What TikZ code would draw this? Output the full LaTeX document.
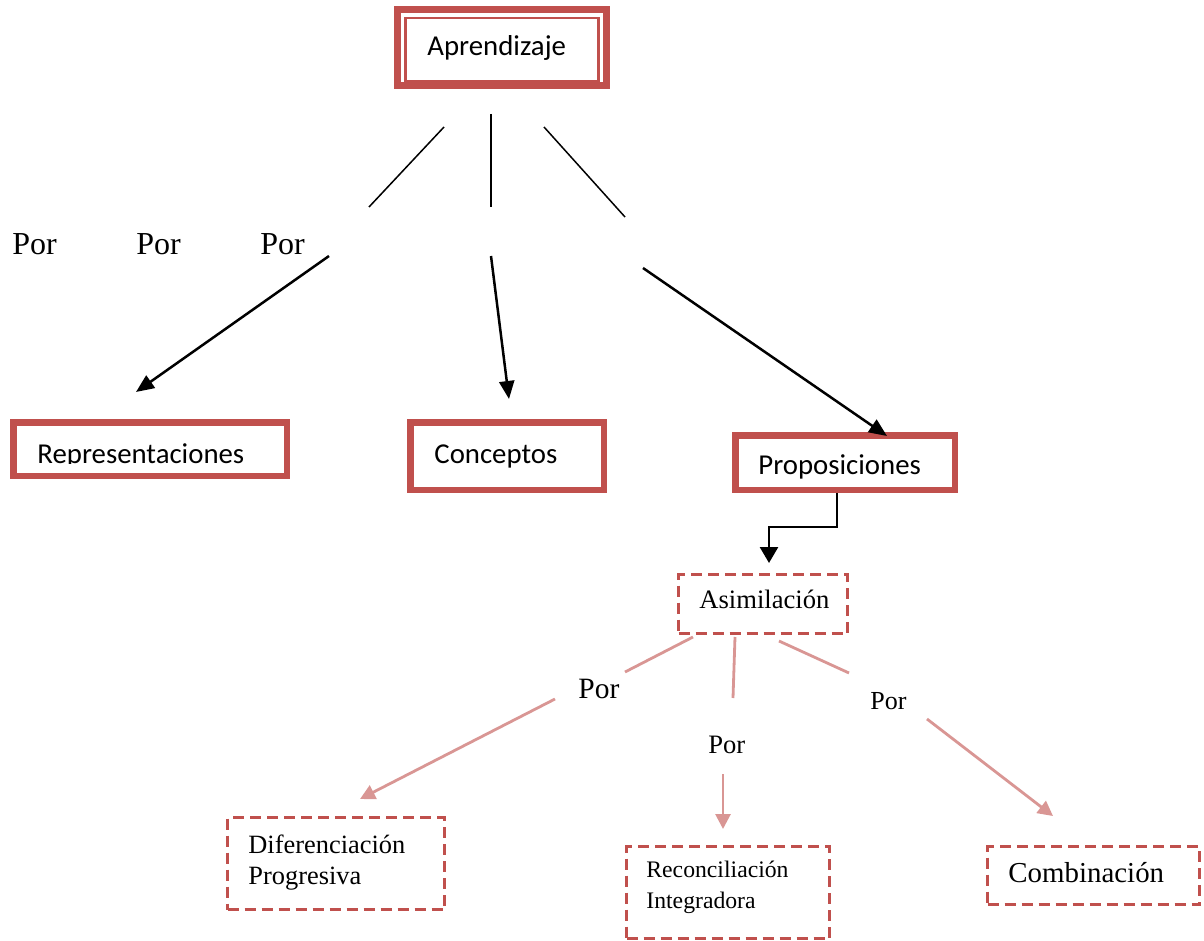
\documentclass[tikz,border=0pt]{standalone}
\usepackage{fontspec}
\setmainfont{Liberation Serif}
\newfontfamily\calibri{Carlito}
\usetikzlibrary{arrows.meta}
\definecolor{boxred}{HTML}{C0504D}
\definecolor{linkpink}{HTML}{D99694}
\begin{document}
\begin{tikzpicture}[x=0.5pt,y=-0.5pt,
  solidbox/.style={draw=boxred, line width=3.25pt, rectangle, inner sep=0pt},
  dashbox/.style={draw=boxred, line width=1.5pt, dash pattern=on 5.5pt off 3pt, rectangle, inner sep=0pt},
  sanslabel/.style={font=\calibri\fontsize{14.4}{17}\selectfont, inner sep=0pt, anchor=base west},
  seriflabel/.style={inner sep=0pt, anchor=base west},
  thinlink/.style={draw=black, line width=0.75pt},
  blackarrow/.style={draw=black, line width=1.25pt, -{Triangle[length=9pt,width=7.5pt]}},
  pinklink/.style={draw=linkpink, line width=1.4pt},
  pinkarrow/.style={draw=linkpink, line width=1.4pt, -{Triangle[length=7.5pt,width=7.5pt]}}
]
\useasboundingbox (0,0) rectangle (1204,941);

% ---- boxes ----
\node[solidbox, line width=3.5pt, minimum width=104.5pt, minimum height=38pt] (apr) at (502,48) {};
\node[solidbox, line width=1.2pt, minimum width=96.5pt, minimum height=31.5pt] (aprin) at (502,49.5) {};
\node[solidbox, minimum width=136.75pt, minimum height=26.75pt] (rep) at (150,449) {};
\node[solidbox, minimum width=96.75pt, minimum height=33.75pt] (con) at (507,456) {};
\node[solidbox, minimum width=109.75pt, minimum height=27.25pt] (pro) at (845,462.5) {};
\node[dashbox, minimum width=84.5pt, minimum height=29.5pt] (asi) at (763,604) {};
\node[dashbox, minimum width=108.5pt, minimum height=46pt] (dif) at (336,863.5) {};
\node[dashbox, minimum width=101.5pt, minimum height=46pt] (rec) at (728,892.5) {};
\node[dashbox, minimum width=106pt, minimum height=29pt] (com) at (1093.5,875.5) {};

% ---- box texts ----
\node[sanslabel] (aprT) at (427,56) {Aprendizaje};
\begin{scope}
  \clip (20,400) rectangle (280,463.5);
  \node[sanslabel] (repT) at (37,463) {Representaciones};
\end{scope}
\node[sanslabel] (conT) at (434,463) {Conceptos};
\node[sanslabel] (proT) at (758,474) {Proposiciones};
\node[seriflabel, font=\fontsize{13.3}{16}\selectfont] (asiT) at (699,608) {Asimilación};
\node[seriflabel, font=\fontsize{13.2}{16}\selectfont] (difT1) at (248,853) {Diferenciación};
\node[seriflabel, font=\fontsize{13.2}{16}\selectfont] (difT2) at (248,884) {Progresiva};
\node[seriflabel, font=\fontsize{11.85}{14}\selectfont] (recT1) at (646,877) {Reconciliación};
\node[seriflabel, font=\fontsize{11.85}{14}\selectfont] (recT2) at (646,908) {Integradora};
\node[seriflabel, font=\fontsize{14.45}{17}\selectfont] (comT) at (1008,882) {Combinación};

% ---- "Por" labels ----
\node[seriflabel, font=\fontsize{16}{19}\selectfont] (por1) at (12,255) {Por};
\node[seriflabel, font=\fontsize{16}{19}\selectfont] (por2) at (136,255) {Por};
\node[seriflabel, font=\fontsize{16}{19}\selectfont] (por3) at (260,255) {Por};
\node[seriflabel, font=\fontsize{14.75}{17}\selectfont] (por4) at (578,698) {Por};
\node[seriflabel, font=\fontsize{13.3}{16}\selectfont] (por5) at (708,753) {Por};
\node[seriflabel, font=\fontsize{13}{16}\selectfont] (por6) at (870,709) {Por};

% ---- connector end points ----
\coordinate (l1a) at (444,127);  \coordinate (l1b) at (369,207);
\coordinate (m1a) at (491,114);  \coordinate (m1b) at (491,207);
\coordinate (r1a) at (544,127);  \coordinate (r1b) at (625,217);
\coordinate (l2a) at (329,256);  \coordinate (l2b) at (136,392);
\coordinate (m2a) at (491,256);  \coordinate (m2b) at (509,399);
\coordinate (r2a) at (643,268);  \coordinate (r2b) at (887,436);
\coordinate (elbx) at (837,0);   \coordinate (asiin) at (769,563);
\coordinate (p1a) at (693,637);  \coordinate (p1b) at (625,672);
\coordinate (p2a) at (555,699);  \coordinate (p2b) at (360,799);
\coordinate (q1a) at (735,637);  \coordinate (q1b) at (733,698);
\coordinate (q2a) at (723,774);  \coordinate (q2b) at (723,829);
\coordinate (s1a) at (779,641);  \coordinate (s1b) at (849,673);
\coordinate (s2a) at (927,719);  \coordinate (s2b) at (1053,816);

% ---- Aprendizaje branches ----
\draw[thinlink] (l1a) -- (l1b);
\draw[thinlink] (m1a) -- (m1b);
\draw[thinlink] (r1a) -- (r1b);
\draw[blackarrow] (l2a) -- (l2b);
\draw[blackarrow] (m2a) -- (m2b);
\draw[blackarrow] (r2a) -- (r2b);

% ---- Proposiciones to Asimilación ----
\draw[blackarrow, line width=1.3pt, -{Triangle[length=8pt,width=9pt]}]
  (pro.south -| elbx) -- ++(0,34) -| (asiin);

% ---- Asimilación branches ----
\draw[pinklink] (p1a) -- (p1b);
\draw[pinkarrow] (p2a) -- (p2b);
\draw[pinklink] (q1a) -- (q1b);
\draw[pinkarrow] (q2a) -- (q2b);
\draw[pinklink] (s1a) -- (s1b);
\draw[pinkarrow] (s2a) -- (s2b);
\end{tikzpicture}
\end{document}
